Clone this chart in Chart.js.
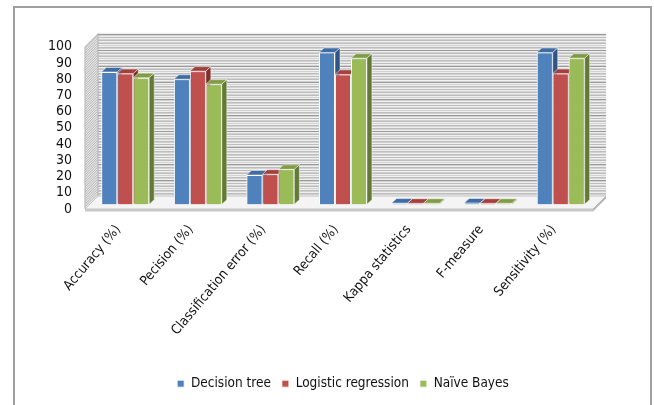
<!DOCTYPE html>
<html>
<head>
<meta charset="utf-8">
<script src="https://cdn.jsdelivr.net/npm/chart.js@4/dist/chart.umd.min.js"></script>
<style>
  html, body { margin: 0; padding: 0; background: #fff; }
  #wrap { position: relative; width: 654px; height: 405px; overflow: hidden; }
  #frame { position: absolute; left: 13px; top: 6px; width: 639px; height: 420px;
           border: 2px solid #a0a0a0; border-bottom: none; box-sizing: border-box; }
  canvas { position: absolute; left: 0; top: 0; }
</style>
</head>
<body>
<div id="wrap">
  <div id="frame"></div>
  <canvas id="chart" width="654" height="405"></canvas>
</div>
<script>
// ── Data ─────────────────────────────────────────────────────
const categories = ['Accuracy (%)', 'Pecision (%)', 'Classification error (%)', 'Recall (%)',
                    'Kappa statistics', 'F-measure', 'Sensitivity (%)'];
const decisionTree       = [81.5, 77, 18, 93.5, 0.7, 0.8, 93.5];
const logisticRegression = [80.5, 82, 18.5, 80, 0.6, 0.6, 80.5];
const naiveBayes         = [78, 74, 21.5, 90, 0.6, 0.6, 90];
const yTicks = [0, 10, 20, 30, 40, 50, 60, 70, 80, 90, 100];

const FONT = "'DejaVu Sans Condensed', 'Liberation Sans Narrow', sans-serif";

// Excel 2007 palette: front / top / side
const PAL = [
  { front: '#4F81BD', top: '#3F6CA3', side: '#2F5587' },
  { front: '#C0504D', top: '#A33F3C', side: '#7F2F2D' },
  { front: '#9BBB59', top: '#809D46', side: '#627A36' },
];

// depth of the room (wall/floor) and of each bar, in px
const WALL_DX = 13, WALL_DY = 13;
const BAR_DX = 5, BAR_DY = 4.5;

// ── 3D room: side wall, back wall, floor ─────────────────────
const room3d = {
  id: 'room3d',
  beforeDatasetsDraw(chart) {
    const { ctx, chartArea: a, scales: { y } } = chart;
    const fx0 = a.left - 4, fx1 = a.right - 4;
    const bx0 = fx0 + WALL_DX, bx1 = fx1 + WALL_DX;
    const fTop = y.getPixelForValue(100), fBot = y.getPixelForValue(0);

    ctx.save();
    // back wall
    ctx.fillStyle = '#efefef';
    ctx.fillRect(bx0, fTop - WALL_DY - 1, bx1 - bx0, fBot - fTop + 1);
    for (let v = 0; v <= 100; v += 2) {
      const py = Math.round(y.getPixelForValue(v) - WALL_DY) + 0.5;
      ctx.strokeStyle = v % 10 === 0 ? '#9a9a9a' : '#bdbdbd';
      ctx.lineWidth = 1;
      ctx.beginPath(); ctx.moveTo(bx0, py); ctx.lineTo(bx1, py); ctx.stroke();
      if (v < 100) {
        const py2 = Math.round(y.getPixelForValue(v + 1) - WALL_DY) + 0.5;
        ctx.strokeStyle = '#d2d2d2';
        ctx.beginPath(); ctx.moveTo(bx0, py2); ctx.lineTo(bx1, py2); ctx.stroke();
      }
    }
    // side wall
    ctx.beginPath();
    ctx.moveTo(fx0, fTop); ctx.lineTo(bx0, fTop - WALL_DY);
    ctx.lineTo(bx0, fBot - WALL_DY); ctx.lineTo(fx0, fBot); ctx.closePath();
    ctx.fillStyle = '#e6e6e6'; ctx.fill();
    ctx.strokeStyle = '#b0b0b0'; ctx.stroke();
    for (let v = 0; v <= 100; v += 1.5) {
      const py = y.getPixelForValue(v);
      ctx.strokeStyle = '#b8b8b8';
      ctx.beginPath(); ctx.moveTo(fx0, py); ctx.lineTo(bx0, py - WALL_DY); ctx.stroke();
    }
    // floor
    ctx.beginPath();
    ctx.moveTo(fx0, fBot); ctx.lineTo(fx1, fBot);
    ctx.lineTo(bx1, fBot - WALL_DY); ctx.lineTo(bx0, fBot - WALL_DY); ctx.closePath();
    ctx.fillStyle = '#f4f4f4'; ctx.fill();
    ctx.strokeStyle = '#c4c4c4'; ctx.stroke();
    // floor slab edge
    ctx.fillStyle = '#c8c8c8';
    ctx.fillRect(fx0, fBot, fx1 - fx0, 2.5);
    ctx.beginPath();
    ctx.moveTo(fx1, fBot); ctx.lineTo(bx1, fBot - WALL_DY);
    ctx.lineTo(bx1, fBot - WALL_DY + 2.5); ctx.lineTo(fx1, fBot + 2.5); ctx.closePath();
    ctx.fillStyle = '#b5b5b5'; ctx.fill();
    ctx.restore();
  },
  afterDatasetsDraw(chart) {
    const { ctx } = chart;
    ctx.save();
    // redraw in series order so each bar covers the side face of the one before
    chart.data.datasets.forEach((ds, i) => {
      const meta = chart.getDatasetMeta(i);
      const pal = PAL[i];
      meta.data.forEach(el => {
        const { x, y, base, width } = el.getProps(['x', 'y', 'base', 'width'], true);
        const l = x - width / 2, r = x + width / 2;
        el.draw(ctx);
        // top face
        ctx.beginPath();
        ctx.moveTo(l, y); ctx.lineTo(r, y);
        ctx.lineTo(r + BAR_DX, y - BAR_DY); ctx.lineTo(l + BAR_DX, y - BAR_DY); ctx.closePath();
        ctx.fillStyle = pal.top; ctx.fill();
        ctx.strokeStyle = 'rgba(255,255,255,0.6)'; ctx.lineWidth = 0.8; ctx.stroke();
        // side face
        ctx.beginPath();
        ctx.moveTo(r, y); ctx.lineTo(r + BAR_DX, y - BAR_DY);
        ctx.lineTo(r + BAR_DX, base - BAR_DY); ctx.lineTo(r, base); ctx.closePath();
        ctx.fillStyle = pal.side; ctx.fill();
        ctx.stroke();
      });
    });
    ctx.restore();
  }
};

// ── Chart ────────────────────────────────────────────────────
const series = [
  ['Decision tree', decisionTree],
  ['Logistic regression', logisticRegression],
  ['Naïve Bayes', naiveBayes],
];

new Chart(document.getElementById('chart'), {
  type: 'bar',
  data: {
    labels: categories,
    datasets: series.map(([label, data], i) => ({
      label,
      data,
      yAxisID: 'y2',
      backgroundColor: PAL[i].front,
      borderColor: 'rgba(255,255,255,0.85)',
      borderWidth: 1,
      categoryPercentage: 0.66,
      barPercentage: 1,
      clip: false,
    })),
  },
  options: {
    responsive: false,
    animation: false,
    layout: { padding: { left: 49, right: 57, top: 46.7, bottom: 4.6 } },
    plugins: {
      tooltip: { enabled: false },
      legend: {
        position: 'bottom',
        fullSize: false,
        labels: {
          boxWidth: 7, boxHeight: 7, padding: 11,
          color: '#111',
          font: { family: FONT, size: 13.5 },
        },
      },
    },
    scales: {
      x: {
        grid: { display: false, drawTicks: false },
        border: { display: false },
        ticks: {
          color: '#111', font: { family: FONT, size: 13.5 },
          minRotation: 50, maxRotation: 50, autoSkip: false, padding: 13, labelOffset: -7,
        },
        afterFit: s => { s.height = 156.9; },
      },
      y: {
        min: 0, max: 100,
        afterBuildTicks: s => { s.ticks = yTicks.map(v => ({ value: v })); },
        grid: { display: false, drawTicks: false },
        border: { display: false },
        ticks: { color: '#111', font: { family: FONT, size: 14 }, padding: 17, autoSkip: false },
        afterFit: s => { s.width = 40; },
      },
      // bars sit a little behind the front edge, so their own scale is shifted
      y2: { display: false, min: -2.94, max: 97.06 },
    },
  },
  plugins: [room3d],
});
</script>
</body>
</html>
